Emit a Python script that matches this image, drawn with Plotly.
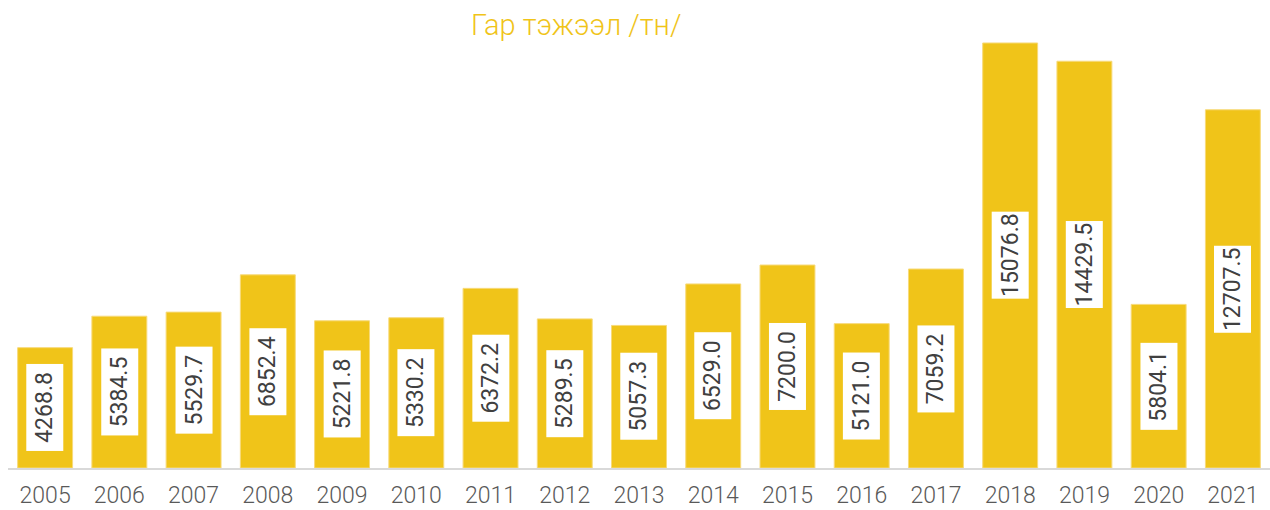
import plotly.graph_objects as go

# Livestock (hand-fed) figures by year, tonnes
years = ["2005", "2006", "2007", "2008", "2009", "2010", "2011", "2012", "2013",
         "2014", "2015", "2016", "2017", "2018", "2019", "2020", "2021"]
values = [4268.8, 5384.5, 5529.7, 6852.4, 5221.8, 5330.2, 6372.2, 5289.5, 5057.3,
          6529.0, 7200.0, 5121.0, 7059.2, 15076.8, 14429.5, 5804.1, 12707.5]
title_text = "Гар тэжээл /тн/"

BAR = "#F0C419"
FONT = "Roboto"

W, H = 1270, 510
ML, MR, MT, MB = 8, 0, 30, 42
PW, PH = W - ML - MR, H - MT - MB

fig = go.Figure(
    go.Bar(
        x=years,
        y=values,
        marker=dict(color=BAR, line=dict(color="#F7DA7A", width=1)),
        width=0.74,
        hoverinfo="x+y",
    )
)

# White value boxes centred inside each bar, rotated text
# (category axes place annotations by category index)
for i, v in enumerate(values):
    fig.add_annotation(
        x=i, y=v / 2, xref="x", yref="y",
        text=f"{v:.1f}",
        textangle=-90,
        showarrow=False,
        bgcolor="white",
        borderpad=1,
        borderwidth=0,
        width=85,
        height=35,
        font=dict(family=FONT, size=23, color="#404040"),
    )

# Title, positioned in pixel terms above the plot
fig.add_annotation(
    x=(576 - ML) / PW, y=1 + (MT - 6) / PH, xref="paper", yref="paper",
    xanchor="center", yanchor="top", showarrow=False,
    text=title_text,
    font=dict(family=FONT, size=29, color=BAR, weight=300),
)

fig.update_layout(
    width=W, height=H,
    margin=dict(l=ML, r=MR, t=MT, b=MB, autoexpand=False),
    paper_bgcolor="white", plot_bgcolor="white",
    showlegend=False,
    xaxis=dict(
        type="category",
        automargin=False,
        range=[-0.5, len(years) - 0.5],
        showgrid=False,
        showline=True, linecolor="#D9D9D9", linewidth=2,
        ticks="outside", ticklen=5, tickcolor="rgba(0,0,0,0)",
        tickfont=dict(family=FONT, size=23, color="#595959", weight=300),
    ),
    yaxis=dict(
        range=[0, 15537],
        visible=False,
        showgrid=False,
        zeroline=False,
    ),
)

fig.write_html("out.html")
